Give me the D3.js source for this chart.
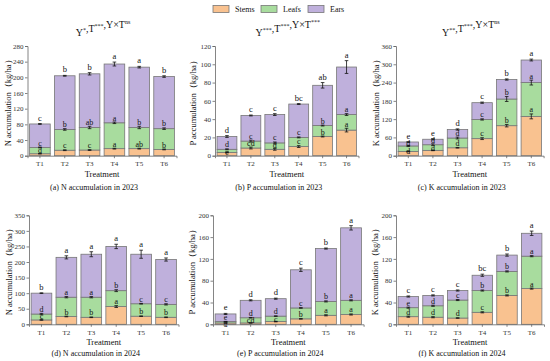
<!DOCTYPE html>
<html>
<head>
<meta charset="utf-8">
<script src="https://cdn.jsdelivr.net/npm/d3@7"></script>
<style>
  body { margin: 0; background: white; }
  svg text { font-family: "Liberation Serif", "Times New Roman", serif; fill: #111; }
</style>
</head>
<body>
<svg id="chart" width="550" height="361"></svg>
<script>
var treatments = ['T1', 'T2', 'T3', 'T4', 'T5', 'T6']
var parts = ['Stems', 'Leafs', 'Ears']

// (a) N 2023
var nStems23 = [5, 14, 14.5, 18, 18, 16]
var nLeafs23 = [16, 53, 57.5, 66, 54, 53]
var nEars23 = [60, 137, 137, 150, 154, 133]
var nErr23 = [[0.5, 1, 1, 1, 1, 1], [1, 2, 3, 2, 3, 2], [1, 1, 3, 5, 2, 2]]
var nLet23 = [['d', 'c', 'c', 'a', 'ab', 'b'], ['c', 'b', 'ab', 'a', 'b', 'b'], ['c', 'b', 'b', 'a', 'a', 'b']]

// (b) P 2023
var pStems23 = [3.6, 8.4, 7, 10, 21, 28]
var pLeafs23 = [3.4, 7.6, 7, 10, 12, 17]
var pEars23 = [14, 28, 31, 36.5, 44, 52]
var pErr23 = [[0.5, 1, 1, 1, 0.5, 2], [0.5, 1, 1, 0.5, 0.5, 1], [1, 0.5, 1, 0.5, 3, 7]]
var pLet23 = [['e', 'cd', 'd', 'c', 'b', 'a'], ['d', 'c', 'c', 'c', 'b', 'a'], ['d', 'c', 'c', 'bc', 'ab', 'a']]

// (c) K 2023
var kStems23 = [14, 17.5, 26, 56, 98.5, 129]
var kLeafs23 = [18, 18.5, 32, 63, 87.5, 111]
var kEars23 = [13, 18, 28, 55, 64, 74]
var kErr23 = [[1, 1, 1, 3, 4, 8], [2, 3, 3, 2, 8, 8], [1, 2, 2, 2, 2, 3]]
var kLet23 = [['d', 'd', 'd', 'c', 'b', 'a'], ['d', 'd', 'd', 'c', 'b', 'a'], ['e', 'e', 'd', 'c', 'b', 'a']]

// (d) N 2024
var nStems24 = [14, 25, 22.5, 57, 26, 22.5]
var nLeafs24 = [19, 62, 64.5, 51, 40, 41.5]
var nEars24 = [67, 128, 138, 142, 159, 144]
var nErr24 = [[1, 1, 1, 3, 1, 1], [2, 2, 2, 3, 1, 2], [1, 5, 8, 7, 13, 5]]
var nLet24 = [['c', 'b', 'b', 'a', 'b', 'b'], ['d', 'a', 'a', 'b', 'c', 'c'], ['b', 'a', 'a', 'a', 'a', 'a']]

// (e) P 2024
var pStems24 = [2.5, 2.5, 5, 10, 16.5, 18]
var pLeafs24 = [2.5, 9.5, 10, 20, 25.5, 26]
var pEars24 = [14, 32, 32, 70, 97, 133]
var pErr24 = [[0.3, 0.3, 0.5, 0.5, 1, 1], [0.3, 0.5, 0.5, 0.5, 1, 1], [1, 1, 1, 3, 1, 4]]
var pLet24 = [['d', 'cd', 'c', 'b', 'a', 'a'], ['e', 'd', 'd', 'c', 'b', 'a'], ['e', 'd', 'd', 'c', 'b', 'a']]

// (f) K 2024
var kStems24 = [14, 13, 11.5, 22, 53, 65.5]
var kLeafs24 = [16.5, 21, 33, 40, 44, 59.5]
var kEars24 = [20.5, 19, 17.5, 28, 30, 42]
var kErr24 = [[1, 1, 0.5, 1, 1, 1], [1, 1, 1, 1, 1, 1], [1, 1, 1, 2, 2, 4]]
var kLet24 = [['d', 'd', 'd', 'c', 'b', 'a'], ['e', 'd', 'c', 'b', 'b', 'a'], ['c', 'c', 'c', 'bc', 'b', 'a']]

var colors = ['#f9c290', '#a8dc9e', '#bfb0dc']

var svg = d3.select('#chart')

// panel settings: x range, y range, y domain, labels
var panels = [
  {x0: 27.5, x1: 176.5, yT: 46, yB: 155.7, max: 280, step: 40, el: 'N', stems: nStems23, leafs: nLeafs23, ears: nEars23, err: nErr23, lets: nLet23,
   title: [['Y', '*'], ['T', '***'], ['Y×T', 'ns']], cap: '(a)  N accumulation in 2023', lx: 8},
  {x0: 215, x1: 358.5, yT: 46, yB: 155.7, max: 120, step: 20, el: 'P', stems: pStems23, leafs: pLeafs23, ears: pEars23, err: pErr23, lets: pLet23,
   title: [['Y', '***'], ['T', '***'], ['Y×T', '***']], cap: '(b)  P accumulation in 2023', lx: 193},
  {x0: 396, x1: 543.6, yT: 46, yB: 155.7, max: 360, step: 60, el: 'K', stems: kStems23, leafs: kLeafs23, ears: kEars23, err: kErr23, lets: kLet23,
   title: [['Y', '**'], ['T', '***'], ['Y×T', 'ns']], cap: '(c)  K accumulation in 2023', lx: 376},
  {x0: 29, x1: 178.5, yT: 215.3, yB: 324.3, max: 350, step: 50, el: 'N', stems: nStems24, leafs: nLeafs24, ears: nEars24, err: nErr24, lets: nLet24,
   title: null, cap: '(d)  N accumulation in 2024', lx: 9},
  {x0: 213, x1: 363.6, yT: 215.3, yB: 324.3, max: 200, step: 40, el: 'P', stems: pStems24, leafs: pLeafs24, ears: pEars24, err: pErr24, lets: pLet24,
   title: null, cap: '(e)  P accumulation in 2024', lx: 192},
  {x0: 396, x1: 544, yT: 215.3, yB: 324.3, max: 200, step: 40, el: 'K', stems: kStems24, leafs: kLeafs24, ears: kEars24, err: kErr24, lets: kLet24,
   title: null, cap: '(f)  K accumulation in 2024', lx: 375}
]

panels.forEach(function(p) {
  var x = d3.scaleBand().domain(treatments).range([p.x0, p.x1]).paddingInner(0.17).paddingOuter(0.085)
  var y = d3.scaleLinear().domain([0, p.max]).range([p.yB, p.yT])
  var g = svg.append('g')

  // stack the three parts
  var rows = treatments.map(function(t, i) {
    return {t: t, Stems: p.stems[i], Leafs: p.leafs[i], Ears: p.ears[i]}
  })
  var stacked = d3.stack().keys(parts)(rows)

  stacked.forEach(function(layer, k) {
    g.selectAll(null).data(layer).enter().append('rect')
      .attr('x', function(d) { return x(d.data.t) })
      .attr('y', function(d) { return y(d[1]) })
      .attr('width', x.bandwidth())
      .attr('height', function(d) { return y(d[0]) - y(d[1]) })
      .style('fill', colors[k])
      .style('stroke', '#777')
      .style('stroke-width', 0.8)
  })

  // error bars
  stacked.forEach(function(layer, k) {
    layer.forEach(function(d, i) {
      var cx = x(d.data.t) + x.bandwidth() / 2
      var e = p.err[k][i]
      var top = y(d[1] + e), bot = y(d[1] - e)
      g.append('line').attr('x1', cx).attr('x2', cx).attr('y1', top).attr('y2', bot)
        .style('stroke', '#111').style('stroke-width', 0.8)
      g.append('line').attr('x1', cx - 1.8).attr('x2', cx + 1.8).attr('y1', top).attr('y2', top)
        .style('stroke', '#111').style('stroke-width', 0.8)
      g.append('line').attr('x1', cx - 1.8).attr('x2', cx + 1.8).attr('y1', bot).attr('y2', bot)
        .style('stroke', '#111').style('stroke-width', 0.8)
    })
  })

  // letters: ears first, then push lower ones down if they crowd
  treatments.forEach(function(t, i) {
    var cx = x(t) + x.bandwidth() / 2
    var prev = null
    for (var k = 2; k >= 0; k--) {
      var d = stacked[k][i]
      var ly = y(d[1] + p.err[k][i]) - (k == 2 ? 3 : 1.5)
      if (prev != null && ly < prev + 7.5) ly = prev + 7.5
      prev = ly
      g.append('text')
        .attr('x', cx)
        .attr('y', ly)
        .style('text-anchor', 'middle')
        .style('font-size', k == 2 ? '8.5px' : '8px')
        .text(p.lets[k][i])
    }
  })

  // axes
  var ticks = d3.range(0, p.max + 0.001, p.step)
  var ya = g.append('g').attr('transform', 'translate(' + p.x0 + ',0)')
    .call(d3.axisLeft(y).tickValues(ticks).tickSize(2.5).tickPadding(1.5))
  var xa = g.append('g').attr('transform', 'translate(0,' + p.yB + ')')
    .call(d3.axisBottom(x).tickSize(2.5).tickPadding(3))
  ;[ya, xa].forEach(function(a) {
    a.selectAll('path, line').style('stroke', '#666').style('stroke-width', 0.8)
    a.selectAll('text').style('font-size', '7px').style('font-family', '"Liberation Serif", serif').style('fill', '#333')
  })

  var cx = (p.x0 + p.x1) / 2
  g.append('text')
    .attr('x', cx).attr('y', p.yB + 21)
    .style('text-anchor', 'middle').style('font-size', '8.5px')
    .text('Treatment')

  g.append('text')
    .attr('transform', 'translate(' + p.lx + ',' + ((p.yT + p.yB) / 2) + ') rotate(-90)')
    .attr('dy', '0.35em')
    .style('text-anchor', 'middle').style('font-size', '8.5px')
    .text(p.el + ' accumulation（kg/ha）')

  // caption below (row 1 captions sit just above row 2)
  g.append('text')
    .attr('x', cx - 8).attr('y', p.yB + (p.yT < 100 ? 34 : 31.5))
    .style('text-anchor', 'middle').style('font-size', '8px')
    .text(p.cap)

  if (p.title) {
    var tt = g.append('text')
      .attr('x', cx + 1).attr('y', 36)
      .style('text-anchor', 'middle').style('font-size', '10px')
    p.title.forEach(function(s, j) {
      tt.append('tspan').text((j > 0 ? ',' : '') + s[0])
      tt.append('tspan').attr('dy', -4).style('font-size', '6px').text(s[1])
      tt.append('tspan').attr('dy', 4).text('')
    })
  }
})

// legend
var legX = [213, 261, 308]
parts.forEach(function(name, k) {
  svg.append('rect').attr('x', legX[k]).attr('y', 5.5).attr('width', 16).attr('height', 7)
    .style('fill', colors[k]).style('stroke', '#777').style('stroke-width', 0.8)
  svg.append('text').attr('x', legX[k] + 22).attr('y', 12.3)
    .style('font-size', '8px').text(name)
})
</script>
</body>
</html>
